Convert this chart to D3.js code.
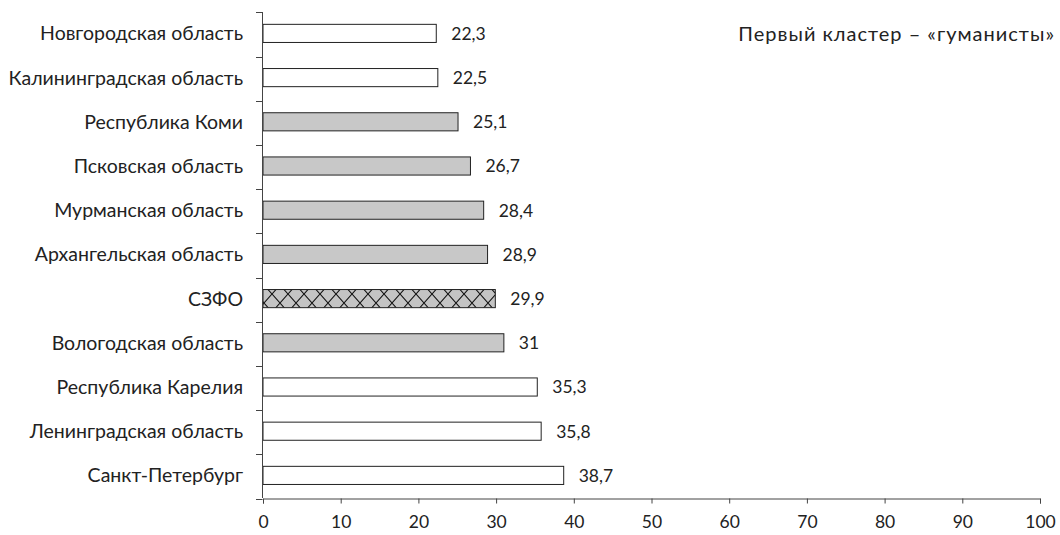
<!DOCTYPE html>
<html><head><meta charset="utf-8">
<script src="https://cdn.jsdelivr.net/npm/d3@7"></script>
<style>body{margin:0;background:#fff}svg{display:block}text{font-family:Lato,"Open Sans",sans-serif;fill:#222}</style>
</head><body>
<svg id="c" width="1060" height="535"></svg>
<script>
const categories = ["Новгородская область","Калининградская область","Республика Коми","Псковская область","Мурманская область","Архангельская область","СЗФО","Вологодская область","Республика Карелия","Ленинградская область","Санкт-Петербург"];
const values = [22.3,22.5,25.1,26.7,28.4,28.9,29.9,31,35.3,35.8,38.7];
const groups = ["white","white","grey","grey","grey","grey","total","grey","white","white","white"];
const xTicks = [0,10,20,30,40,50,60,70,80,90,100];
const title = "Первый кластер – «гуманисты»";

const svg = d3.select("#c");
const defs = svg.append("defs");
const pat = defs.append("pattern").attr("id","hatch").attr("patternUnits","userSpaceOnUse")
  .attr("width",16).attr("height",18).attr("y",24);
pat.append("rect").attr("width",16).attr("height",18).attr("fill","#c4c4c4");
pat.append("path").attr("d","M0,0L16,18M16,0L0,18").attr("stroke","#111").attr("stroke-width",1.1).attr("fill","none");

const x = d3.scaleLinear().domain([0,100]).range([263,1040]);
const y = d3.scaleBand().domain(categories).range([12.3,498.5]).paddingInner(0.59).paddingOuter(0.295);
const fills = {white:"#fff",grey:"#c8c8c8",total:"url(#hatch)"};

svg.selectAll("rect.bar").data(categories).join("rect").attr("class","bar")
  .attr("x",x(0)).attr("y",d=>y(d)-1).attr("height",y.bandwidth())
  .attr("width",(d,i)=>x(values[i])-x(0))
  .attr("fill",(d,i)=>fills[groups[i]]).attr("stroke","#222").attr("stroke-width",1);

svg.selectAll("text.val").data(categories).join("text").attr("class","val")
  .attr("x",(d,i)=>x(values[i])+15).attr("y",d=>y(d)-1+y.bandwidth()/2).attr("dy","0.36em")
  .attr("font-size",17.5).text((d,i)=>String(values[i]).replace(".",","));

// y axis
const ya = svg.append("g");
ya.append("line").attr("x1",262.5).attr("x2",262.5).attr("y1",12).attr("y2",498).attr("stroke","#444");
const bounds = d3.range(categories.length+1).map(i=>12.3+i*(498.5-12.3)/categories.length);
ya.selectAll("line.t").data(bounds).join("line").attr("class","t")
  .attr("x1",256).attr("x2",262.5).attr("y1",d=>Math.round(d)+0.5).attr("y2",d=>Math.round(d)+0.5).attr("stroke","#444");
ya.selectAll("text").data(categories).join("text")
  .attr("x",243).attr("y",d=>y(d)-1+y.bandwidth()/2).attr("dy","0.36em").attr("text-anchor","end")
  .attr("font-size",19.5).text(d=>d);

// x axis
const xa = svg.append("g").attr("transform","translate(0,498.5)")
  .call(d3.axisBottom(x).tickValues(xTicks).tickSize(5).tickPadding(12).tickFormat(d=>d));
xa.select(".domain").attr("stroke","#444");
xa.selectAll(".tick line").attr("stroke","#444");
xa.selectAll("text").attr("font-size",17.5).attr("font-family","Lato,'Open Sans',sans-serif").attr("fill","#222");

svg.append("text").attr("x",1055).attr("y",34).attr("dy","0.36em").attr("text-anchor","end")
  .attr("font-size",20).attr("letter-spacing",1).text(title);
</script>
</body></html>
